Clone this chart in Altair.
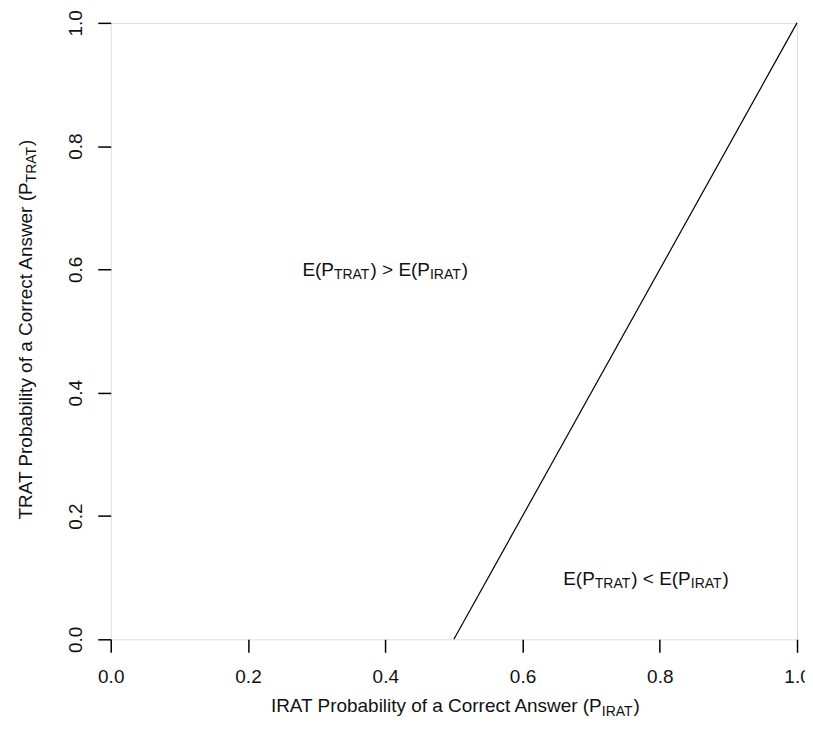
import altair as alt
import pandas as pd

# ---------------- data ----------------
x_ticks = [0.0, 0.2, 0.4, 0.6, 0.8, 1.0]
y_ticks = [0.0, 0.2, 0.4, 0.6, 0.8, 1.0]
boundary_irat = [0.5, 1.0]
boundary_trat = [0.0, 1.0]
annot_x = [0.4, 0.78]
annot_y = [0.6, 0.1]
annot_op = [">", "<"]
x_title_main = "IRAT Probability of a Correct Answer (P"
x_title_sub = "IRAT"
y_title_main = "TRAT Probability of a Correct Answer (P"
y_title_sub = "TRAT"
close_paren = ")"

# ---------------- styling ----------------
W, H = 688, 618
FONT = "Liberation Sans"
MAIN = 19
SUB = 14
INK = "#111111"

ARIAL = {
    " ": 278, "(": 333, ")": 333, ">": 584, "<": 584,
    "A": 667, "C": 722, "E": 667, "I": 278, "P": 667, "R": 722, "T": 611,
    "a": 556, "b": 556, "c": 500, "e": 556, "f": 278, "i": 222, "l": 222,
    "n": 556, "o": 556, "r": 333, "s": 500, "t": 278, "w": 722, "y": 500,
}


def tw(s, size):
    return sum(ARIAL.get(c, 556) for c in s) * size / 1000.0


def layout(parts):
    """parts: list of (sample_text, size). returns list of left-edge offsets centred on 0."""
    total = sum(tw(t, s) for t, s in parts)
    out, cur = [], -total / 2.0
    for t, s in parts:
        out.append(cur)
        cur += tw(t, s)
    return out


# ---------------- boundary line ----------------
line_df = pd.DataFrame({"irat": boundary_irat, "trat": boundary_trat})

x_axis = alt.Axis(values=x_ticks, format=".1f", grid=False, domain=False,
                  tickSize=13, tickWidth=1.5, tickColor="black",
                  labelFontSize=MAIN, labelFont=FONT, labelColor=INK,
                  labelPadding=15, labelFlush=False, labelOverlap=False,
                  title=None)
y_axis = alt.Axis(values=y_ticks, format=".1f", grid=False, domain=False,
                  tickSize=13, tickWidth=1.5, tickColor="black",
                  labelFontSize=MAIN, labelFont=FONT, labelColor=INK,
                  labelAngle=270, labelAlign="center", labelBaseline="alphabetic",
                  labelPadding=16, labelFlush=False, labelOverlap=False,
                  title=None)

xs = alt.Scale(domain=[0, 1], nice=False, zero=False)
ys = alt.Scale(domain=[0, 1], nice=False, zero=False)

line = alt.Chart(line_df).mark_line(color="black", strokeWidth=1.2).encode(
    x=alt.X("irat:Q", scale=xs, axis=x_axis),
    y=alt.Y("trat:Q", scale=ys, axis=y_axis),
)

# ---------------- annotations ----------------
ann_df = pd.DataFrame({"x": annot_x, "y": annot_y, "op": annot_op})
ann_df["mid"] = ") " + ann_df["op"] + " E(P"

ann_parts = [("E(P", MAIN), ("TRAT", SUB), (") > E(P", MAIN), ("IRAT", SUB), (")", MAIN)]
ann_dx = layout(ann_parts)
BASE_DY = 7
SUB_DY = BASE_DY + 3

ann_layers = []
for i, (txt, size) in enumerate(ann_parts):
    is_sub = size == SUB
    enc_text = alt.Text("mid:N") if i == 2 else alt.value(txt)
    # main pieces preceding a subscript are right-aligned at the subscript start
    if not is_sub and i + 1 < len(ann_parts):
        align, dx = "right", ann_dx[i + 1]
    else:
        align, dx = "left", ann_dx[i]
    ann_layers.append(
        alt.Chart(ann_df).mark_text(
            align=align, baseline="alphabetic", font=FONT, fontSize=size,
            color=INK, dx=dx, dy=SUB_DY if is_sub else BASE_DY,
        ).encode(x=alt.X("x:Q", scale=xs), y=alt.Y("y:Q", scale=ys), text=enc_text)
    )

# ---------------- axis titles with subscripts ----------------
title_df = pd.DataFrame({"c": [0.5]})


def title_layers(parts, enc_x, enc_y, angle=None):
    dxs = layout(parts)
    layers = []
    for i, (txt, size) in enumerate(parts):
        is_sub = size == SUB
        if i == 0:
            align, dx = "right", dxs[1]
        else:
            align, dx = "left", dxs[i]
        kw = dict(align=align, baseline="alphabetic", font=FONT, fontSize=size,
                  color=INK, dx=dx, dy=4 if is_sub else 0)
        if angle is not None:
            kw["angle"] = angle
        layers.append(
            alt.Chart(title_df).mark_text(**kw).encode(x=enc_x, y=enc_y, text=alt.value(txt))
        )
    return layers


xt_layers = title_layers(
    [(x_title_main, MAIN), (x_title_sub, SUB), (close_paren, MAIN)],
    alt.X("c:Q", scale=xs), alt.value(H + 73),
)
yt_layers = title_layers(
    [(y_title_main, MAIN), (y_title_sub, SUB), (close_paren, MAIN)],
    alt.value(-79), alt.Y("c:Q", scale=ys), angle=270,
)

chart = alt.layer(line, *ann_layers, *xt_layers, *yt_layers).properties(
    width=W, height=H,
    autosize=alt.AutoSizeParams(type="none"),
    padding={"left": 103, "top": 14, "right": 8, "bottom": 85},
).configure_view(stroke="black", strokeWidth=1.5).configure(background="white")

chart.save("out.html", embed_options={"renderer": "svg", "actions": False})
